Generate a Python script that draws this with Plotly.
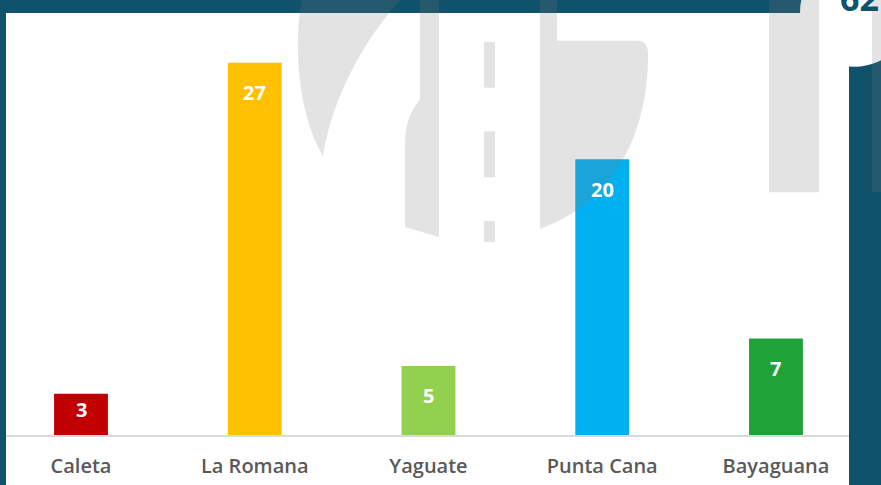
import plotly.graph_objects as go

# ---- data ----
categories = ["Caleta", "La Romana", "Yaguate", "Punta Cana", "Bayaguana"]
values = [3, 27, 5, 20, 7]
bar_colors = ["#C00000", "#FFC000", "#92D050", "#00B0F0", "#1FA339"]
badge_text = "62"

# ---- geometry helpers (pixel -> paper) ----
W, H = 881, 485
PL, PR, PT, PB = 6, 849, 13, 437
PPU = 13.85  # pixels per unit on y


def xp(px):
    return (px - PL) / (PR - PL)


def yp(py):
    return (PB - py) / (PB - PT)


def pt(px, py):
    return f"{xp(px):.5f},{yp(py):.5f}"


TEAL = "#0E526B"
WM = dict(fillcolor="#7a7a7a", opacity=0.21, line=dict(width=0), layer="above",
          xref="paper", yref="paper")

fig = go.Figure()
fig.add_trace(go.Bar(
    x=categories, y=values,
    marker=dict(color=bar_colors, line=dict(width=0)),
    width=0.31, hoverinfo="skip",
))

shapes = []
# white area extension below the plot (behind tick labels)
shapes.append(dict(type="rect", xref="paper", yref="paper", x0=0, x1=1,
                   y0=yp(H + 5), y1=1, fillcolor="white", line=dict(width=0), layer="below"))
# white badge circle
cx, cy, r = 855, 12, 55
shapes.append(dict(type="circle", xref="paper", yref="paper",
                   x0=xp(cx - r), x1=xp(cx + r), y0=yp(cy + r), y1=yp(cy - r),
                   fillcolor="white", line=dict(width=0), layer="below"))

# watermark: crescent
shapes.append(dict(type="path", path=(
    f"M{pt(302,-2)} C{pt(294,40)} {pt(296,110)} {pt(323,157)} "
    f"C{pt(330,110)} {pt(355,50)} {pt(402,-2)} Z"), **WM))
# watermark: road stripe
shapes.append(dict(type="path", path=(
    f"M{pt(420,-2)} L{pt(439,-2)} L{pt(439,238)} L{pt(405,228)} L{pt(405,145)} "
    f"C{pt(405,125)} {pt(410,112)} {pt(420,100)} Z"), **WM))
# dashes
for y0, y1 in [(42, 88), (132, 178), (222, 243)]:
    shapes.append(dict(type="rect", x0=xp(484), x1=xp(495), y0=yp(y1), y1=yp(y0), **WM))
# right bump
shapes.append(dict(type="path", path=(
    f"M{pt(540,-2)} L{pt(557,-2)} L{pt(557,41)} L{pt(638,41)} "
    f"Q{pt(648,41)} {pt(648,55)} C{pt(648,140)} {pt(610,205)} {pt(540,230)} Z"), **WM))
# right rectangles
shapes.append(dict(type="rect", x0=xp(769), x1=xp(819), y0=yp(193), y1=yp(-2), **WM))
shapes.append(dict(type="rect", x0=xp(872), x1=xp(905), y0=yp(193), y1=yp(-2), **WM))

annotations = []
for c, v in zip(categories, values):
    bar_px = v * PPU
    off = min(30, bar_px / 2 - 5)
    annotations.append(dict(x=c, y=v, yshift=-off, text=str(v), showarrow=False,
                            xanchor="center", yanchor="middle",
                            font=dict(family="Open Sans", size=20, color="white", weight="bold")))
annotations.append(dict(x=xp(859), y=yp(13), xref="paper", yref="paper", text=badge_text,
                        showarrow=False, xanchor="center", yanchor="bottom", yshift=-10,
                        font=dict(family="Open Sans", size=34, color=TEAL, weight="bold")))

fig.update_layout(
    width=W, height=H,
    margin=dict(l=PL, r=W - PR, t=PT, b=H - PB, pad=0),
    paper_bgcolor=TEAL, plot_bgcolor="white",
    showlegend=False, bargap=0.69,
    shapes=shapes, annotations=annotations,
    xaxis=dict(range=[-0.4317, 4.4203], showgrid=False, zeroline=False,
               showline=True, linecolor="#D9D9D9", linewidth=2,
               ticks="", ticklabelstandoff=12,
               tickfont=dict(family="Open Sans", size=20, color="#595959", weight=600),
               fixedrange=True),
    yaxis=dict(range=[0, (PB - PT) / PPU], showgrid=False, zeroline=False,
               showticklabels=False, showline=False, fixedrange=True),
)

fig.write_html("out.html", config={"displayModeBar": False},
               post_script="document.body.style.margin='0px';document.body.style.overflow='hidden';")
